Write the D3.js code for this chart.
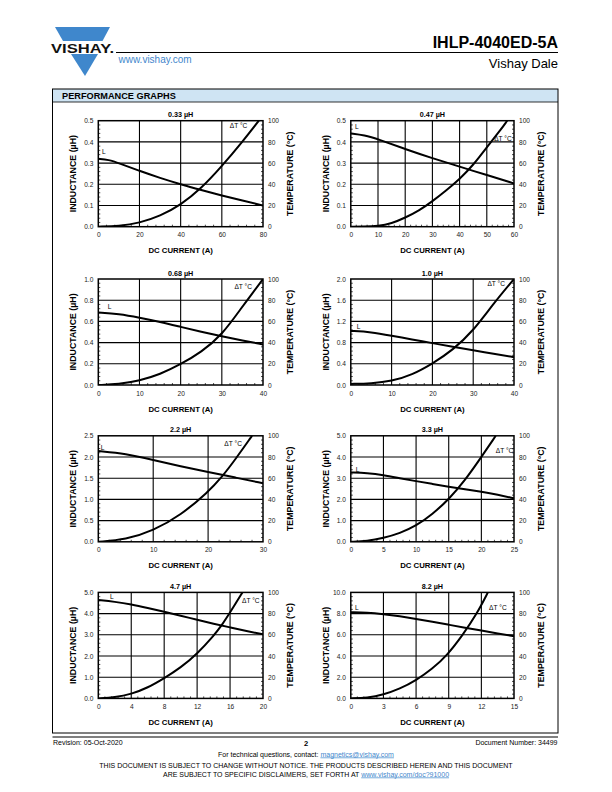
<!DOCTYPE html>
<html><head><meta charset="utf-8">
<script src="https://cdn.jsdelivr.net/npm/d3@7"></script>
<style>body{margin:0;background:#fff}text{font-family:"Liberation Sans",Arial,sans-serif}</style>
</head><body>
<script>
// ---------- DATA ----------
const chartTitles = ["0.33 µH","0.47 µH","0.68 µH","1.0 µH","2.2 µH","3.3 µH","4.7 µH","8.2 µH"];
const currentMax = [80,60,40,40,30,25,20,15];
const currentTicks = [[0,20,40,60,80],[0,10,20,30,40,50,60],[0,10,20,30,40],[0,10,20,30,40],[0,10,20,30],[0,5,10,15,20,25],[0,4,8,12,16,20],[0,3,6,9,12,15]];
const inductanceTicks = [[0,0.1,0.2,0.3,0.4,0.5],[0,0.1,0.2,0.3,0.4,0.5],[0,0.2,0.4,0.6,0.8,1.0],[0,0.4,0.8,1.2,1.6,2.0],[0,0.5,1.0,1.5,2.0,2.5],[0,1,2,3,4,5],[0,1,2,3,4,5],[0,2,4,6,8,10]];
const temperatureTicks = [0,20,40,60,80,100];

// inductance curves (A, µH)
const lCurrent = [
  [0,5,10,20,30,40,50,60,70,80],
  [0,5,10,20,30,40,50,60],
  [0,5,10,15,20,25,30,35,40],
  [0,5,10,15,20,25,30,35,40],
  [0,5,10,15,20,25,30],
  [0,2.5,5,7.5,10,12.5,15,17.5,20,22.5,25],
  [0,2,4,6,8,10,12,14,16,18,20],
  [0,1.5,3,4.5,6,7.5,9,10.5,12,13.5,15]
];
const lValue = [
  [0.32,0.316,0.300,0.263,0.230,0.200,0.173,0.147,0.123,0.100],
  [0.44,0.432,0.413,0.366,0.323,0.283,0.244,0.204],
  [0.685,0.67,0.635,0.595,0.548,0.502,0.46,0.42,0.383],
  [1.02,1.0,0.93,0.86,0.79,0.72,0.655,0.59,0.525],
  [2.14,2.08,1.93,1.78,1.645,1.515,1.38],
  [3.27,3.24,3.15,3.0,2.86,2.73,2.6,2.48,2.36,2.22,2.05],
  [4.64,4.56,4.44,4.27,4.09,3.9,3.71,3.52,3.35,3.18,3.02],
  [8.13,8.1,7.95,7.75,7.5,7.23,6.95,6.67,6.4,6.13,5.86]
];
// temperature rise curves (A, °C)
const tCurrent = [
  [0,10,20,30,40,50,60,70,78],
  [0,5,10,15,20,25,30,35,40,45,50,55,57.5],
  [0,5,10,15,20,25,30,35,37.5,40],
  [0,5,10,15,20,25,30,35,40],
  [0,5,10,15,20,22.5,25,28],
  [0,2.5,5,7.5,10,12.5,15,17.5,20,22.2],
  [0,2,4,6,8,10,12,14,15,16,17.5],
  [0,1.5,3,4.5,6,7.5,8.8,10.3,11.6,12.6]
];
const tValue = [
  [0,0.6,3.5,10,20.5,36,57,80,100],
  [0,0,0.5,3,8.5,15,24,34,45,58,75,91,100],
  [0,0.7,4,10,19.5,31,47,74,87,100],
  [1,1.5,3.5,9.5,20,33,51,77,100],
  [0,2,10.5,25,47,61,78,100],
  [0,0.5,3.5,8,15,26,40,58,80,100],
  [0,1,4,10,19,29,42,59,69,81,100],
  [0,0.5,3.5,9,17,28,40,60,80,100]
];

// ---------- LAYOUT ----------
const W = 612, H = 792;
const colX0 = [98.3, 350.8], colX1 = [263, 514];
const rowTop = [120.7, 279, 435.8, 592.4], plotH = 106;
// label anchors as fractions of plot box [fx, fy]
const lLabelPos = [[0.022,0.295],[0.026,0.057],[0.057,0.263],[0.037,0.446],[0.015,0.108],[0.031,0.316],[0.071,0.04],[0.026,0.14]];
const tLabelPos = [[0.905,0.045],[0.986,0.166],[0.933,0.073],[0.945,0.048],[0.872,0.077],[0.996,0.14],[0.979,0.08],[0.955,0.14]];

const svg = d3.select("body").append("svg").attr("width",W).attr("height",H);
const blue = "#3f87cc";

// ---------- HEADER ----------
const logo = svg.append("g");
logo.append("path").attr("d","M55,27 L110,27 L102.5,41 L63,41 Z").attr("fill",blue);
logo.append("path").attr("d","M71,54 L98,54 L85,76 Z").attr("fill",blue);
logo.append("text").attr("x",51).attr("y",52.5).attr("font-size",13.5).attr("font-weight","bold")
  .attr("textLength",63).attr("lengthAdjust","spacingAndGlyphs").attr("fill","#111").text("VISHAY.");
svg.append("line").attr("x1",116).attr("x2",558).attr("y1",52.5).attr("y2",52.5).attr("stroke","#000").attr("stroke-width",1);
svg.append("text").attr("x",118.5).attr("y",63).attr("font-size",10).attr("fill",blue).text("www.vishay.com");
svg.append("text").attr("x",558).attr("y",47.5).attr("text-anchor","end").attr("font-size",16).attr("font-weight","bold").text("IHLP-4040ED-5A");
svg.append("text").attr("x",558).attr("y",68).attr("text-anchor","end").attr("font-size",13).text("Vishay Dale");

// ---------- PANEL ----------
svg.append("rect").attr("x",52.5).attr("y",89).attr("width",505.5).attr("height",13).attr("fill","#cfe4f3");
svg.append("rect").attr("x",52.5).attr("y",89).attr("width",505.5).attr("height",644).attr("fill","none").attr("stroke","#000").attr("stroke-width",1);
svg.append("line").attr("x1",52.5).attr("x2",558).attr("y1",102).attr("y2",102).attr("stroke","#000").attr("stroke-width",0.8);
svg.append("text").attr("x",62).attr("y",99).attr("font-size",9.2).attr("font-weight","bold").attr("fill","#000").text("PERFORMANCE GRAPHS");

// ---------- CHARTS ----------
const fmt1 = d3.format(".1f");
chartTitles.forEach((title,i)=>{
  const col = i%2, row = Math.floor(i/2);
  const x0 = colX0[col], x1 = colX1[col], y0 = rowTop[row], y1 = y0+plotH;
  const lT = inductanceTicks[i];
  const x = d3.scaleLinear().domain([0,currentMax[i]]).range([x0,x1]);
  const yL = d3.scaleLinear().domain([0,lT[lT.length-1]]).range([y1,y0]);
  const yT = d3.scaleLinear().domain([0,100]).range([y1,y0]);
  const g = svg.append("g");
  const cid = "clip"+i;
  g.append("clipPath").attr("id",cid).append("rect").attr("x",x0).attr("y",y0).attr("width",x1-x0).attr("height",plotH);

  // grid
  g.selectAll(".vg").data(currentTicks[i].slice(1,-1)).join("line")
    .attr("x1",d=>x(d)).attr("x2",d=>x(d)).attr("y1",y0).attr("y2",y1).attr("stroke","#000").attr("stroke-width",1.1);
  g.selectAll(".hg").data(lT.slice(1,-1)).join("line")
    .attr("x1",x0).attr("x2",x1).attr("y1",d=>yL(d)).attr("y2",d=>yL(d)).attr("stroke","#000").attr("stroke-width",1.1);

  // minor ticks
  const xt = currentTicks[i], xStep = xt[1]-xt[0];
  const xMinor = d3.range(0, currentMax[i]+1e-9, xStep/5).filter(v=>Math.abs(v/xStep-Math.round(v/xStep))>1e-6);
  g.selectAll(".xm").data(xMinor).join("line").attr("x1",d=>x(d)).attr("x2",d=>x(d)).attr("y1",y1).attr("y2",y1-2).attr("stroke","#000").attr("stroke-width",0.7);
  const lStep = lT[1]-lT[0];
  const lMinor = d3.range(0, lT[lT.length-1]+1e-9, lStep/5).filter(v=>Math.abs(v/lStep-Math.round(v/lStep))>1e-6);
  g.selectAll(".lm").data(lMinor).join("line").attr("x1",x0).attr("x2",x0+2).attr("y1",d=>yL(d)).attr("y2",d=>yL(d)).attr("stroke","#000").attr("stroke-width",0.7);
  const tMinor = d3.range(0, 100.001, 4).filter(v=>v%20!==0);
  g.selectAll(".tm").data(tMinor).join("line").attr("x1",x1).attr("x2",x1-2).attr("y1",d=>yT(d)).attr("y2",d=>yT(d)).attr("stroke","#000").attr("stroke-width",0.7);

  // frame
  g.append("rect").attr("x",x0).attr("y",y0).attr("width",x1-x0).attr("height",plotH).attr("fill","none").attr("stroke","#000").attr("stroke-width",1.5);

  // curves
  const lData = lCurrent[i].map((c,k)=>[c,lValue[i][k]]);
  const tData = tCurrent[i].map((c,k)=>[c,tValue[i][k]]);
  g.append("path").attr("clip-path",`url(#${cid})`).attr("fill","none").attr("stroke","#000").attr("stroke-width",2)
    .attr("d", d3.line().x(d=>x(d[0])).y(d=>yL(d[1])).curve(d3.curveBasis)(lData));
  g.append("path").attr("clip-path",`url(#${cid})`).attr("fill","none").attr("stroke","#000").attr("stroke-width",2)
    .attr("d", d3.line().x(d=>x(d[0])).y(d=>yT(d[1])).curve(d3.curveBasis)(tData));

  // axes
  const fs = 6.6;
  const ax = g.append("g").attr("transform",`translate(0,${y1})`)
    .call(d3.axisBottom(x).tickValues(currentTicks[i]).tickSize(0).tickPadding(6).tickFormat(d3.format("d")));
  const al = g.append("g").attr("transform",`translate(${x0},0)`)
    .call(d3.axisLeft(yL).tickValues(lT).tickSize(0).tickPadding(5).tickFormat(fmt1));
  const ar = g.append("g").attr("transform",`translate(${x1},0)`)
    .call(d3.axisRight(yT).tickValues(temperatureTicks).tickSize(0).tickPadding(5).tickFormat(d3.format("d")));
  [ax,al,ar].forEach(a=>{a.select(".domain").remove();a.selectAll("text").attr("font-size",fs).attr("fill","#222").style("font-family",'"Liberation Sans",Arial,sans-serif');});

  // titles
  g.append("text").attr("x",(x0+x1)/2).attr("y",y0-3.5).attr("text-anchor","middle").attr("font-size",7.2).attr("font-weight","bold").text(title);
  g.append("text").attr("x",(x0+x1)/2).attr("y",y1+26.5).attr("text-anchor","middle").attr("font-size",7.8).attr("font-weight","bold").text("DC CURRENT (A)");
  g.append("text").attr("transform",`translate(${x0-22},${(y0+y1)/2}) rotate(-90)`).attr("text-anchor","middle").attr("font-size",8.8).attr("font-weight","bold").text("INDUCTANCE (µH)");
  g.append("text").attr("transform",`translate(${x1+29.5},${(y0+y1)/2}) rotate(-90)`).attr("text-anchor","middle").attr("font-size",8.8).attr("font-weight","bold").text("TEMPERATURE (°C)");

  // curve labels
  g.append("text").attr("x",x0+lLabelPos[i][0]*(x1-x0)).attr("y",y0+lLabelPos[i][1]*plotH).attr("dy","0.35em").attr("font-size",6.6).text("L");
  g.append("text").attr("x",x0+tLabelPos[i][0]*(x1-x0)).attr("y",y0+tLabelPos[i][1]*plotH).attr("dy","0.35em").attr("text-anchor","end").attr("font-size",6.6).text("ΔT °C");
});

// ---------- FOOTER ----------
svg.append("line").attr("x1",52.5).attr("x2",558).attr("y1",737).attr("y2",737).attr("stroke","#000").attr("stroke-width",1);
svg.append("text").attr("x",53).attr("y",745).attr("font-size",7).text("Revision: 05-Oct-2020");
svg.append("text").attr("x",306).attr("y",745.5).attr("text-anchor","middle").attr("font-size",7.5).attr("font-weight","bold").text("2");
svg.append("text").attr("x",557.5).attr("y",745).attr("text-anchor","end").attr("font-size",7).text("Document Number: 34499");
const f2 = svg.append("text").attr("x",306).attr("y",756.5).attr("text-anchor","middle").attr("font-size",7);
f2.append("tspan").text("For technical questions, contact: ");
f2.append("tspan").attr("fill",blue).attr("text-decoration","underline").text("magnetics@vishay.com");
svg.append("text").attr("x",306).attr("y",767.5).attr("text-anchor","middle").attr("font-size",7).text("THIS DOCUMENT IS SUBJECT TO CHANGE WITHOUT NOTICE. THE PRODUCTS DESCRIBED HEREIN AND THIS DOCUMENT");
const f4 = svg.append("text").attr("x",306).attr("y",776.5).attr("text-anchor","middle").attr("font-size",7);
f4.append("tspan").text("ARE SUBJECT TO SPECIFIC DISCLAIMERS, SET FORTH AT ");
f4.append("tspan").attr("fill",blue).attr("text-decoration","underline").text("www.vishay.com/doc?91000");
</script>
</body></html>
